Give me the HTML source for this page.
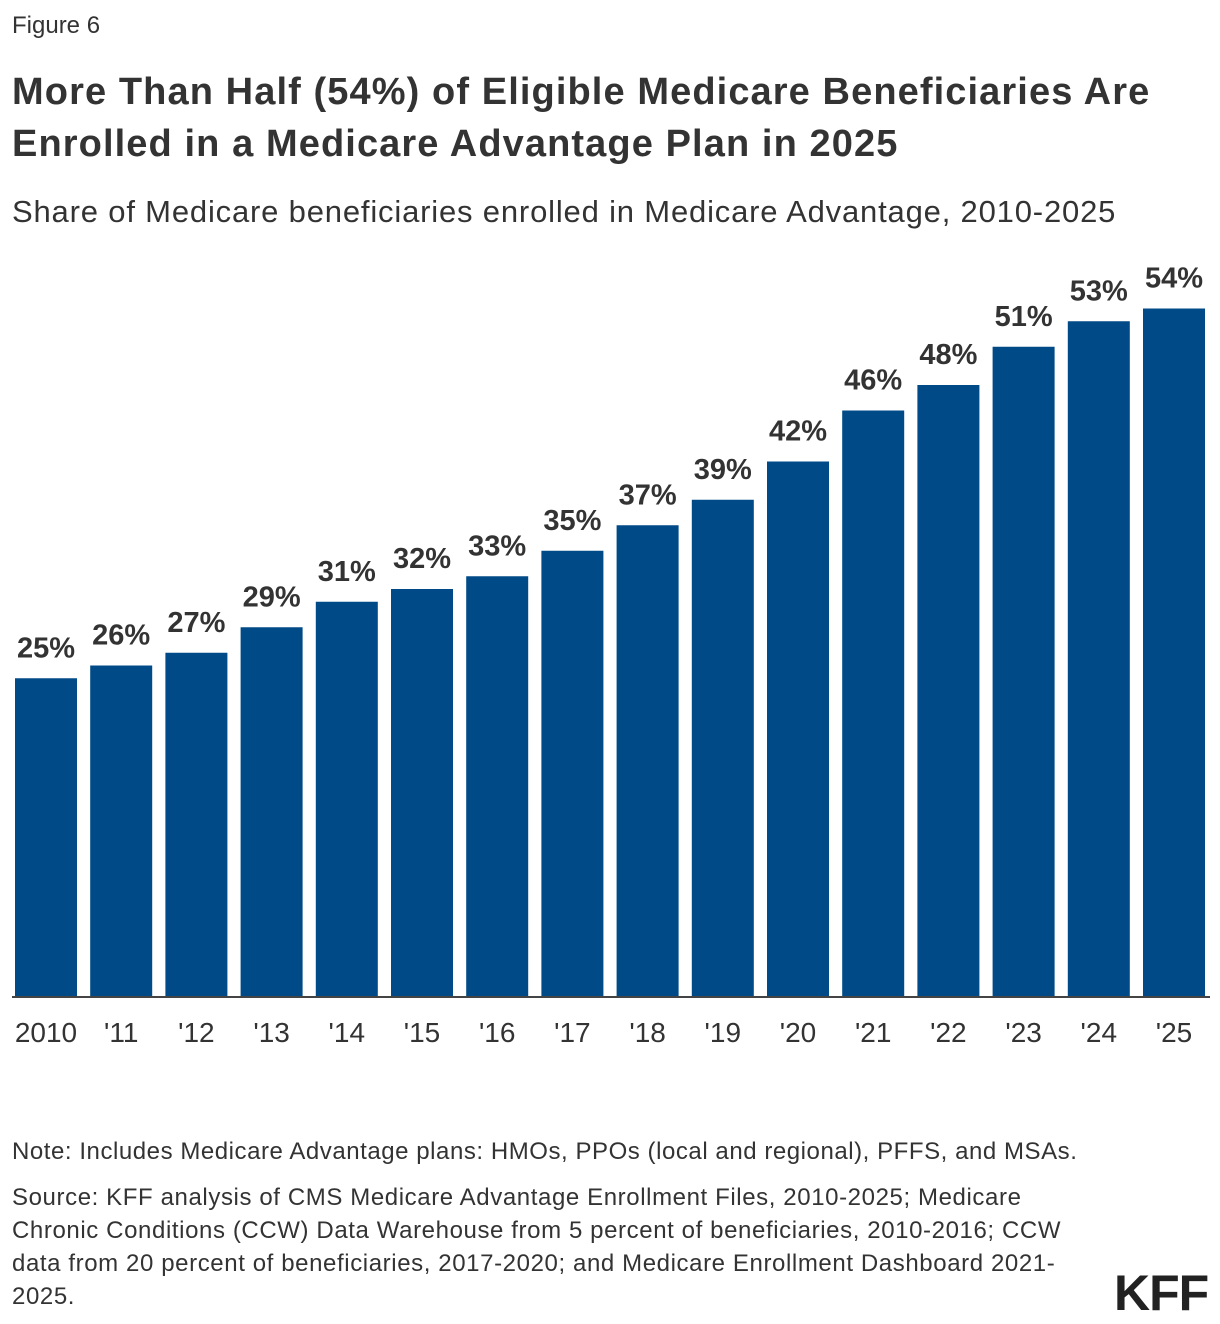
<!DOCTYPE html>
<html><head><meta charset="utf-8"><style>
body{margin:0;width:1220px;height:1324px;background:#fff;font-family:"Liberation Sans",sans-serif;color:#222;position:relative;overflow:hidden}
.t{position:absolute;left:12px;white-space:nowrap}
</style></head><body>
<div class="t" style="top:12px;font-size:24px;color:#333">Figure 6</div>
<div class="t" style="top:66px;font-size:38px;font-weight:bold;line-height:52px;color:#333;letter-spacing:1.1px">More Than Half (54%) of Eligible Medicare Beneficiaries Are<br>Enrolled in a Medicare Advantage Plan in 2025</div>
<div class="t" style="top:194px;font-size:31px;color:#333;letter-spacing:0.82px">Share of Medicare beneficiaries enrolled in Medicare Advantage, 2010-2025</div>
<svg id="chart" style="position:absolute;left:0;top:0" width="1220" height="1324"></svg>
<div class="t" style="top:1138px;font-size:24px;color:#333;letter-spacing:0.55px">Note: Includes Medicare Advantage plans: HMOs, PPOs (local and regional), PFFS, and MSAs.</div>
<div class="t" style="top:1181px;font-size:24px;line-height:33px;color:#333;letter-spacing:0.6px">Source: KFF analysis of CMS Medicare Advantage Enrollment Files, 2010-2025; Medicare<br>Chronic Conditions (CCW) Data Warehouse from 5 percent of beneficiaries, 2010-2016; CCW<br>data from 20 percent of beneficiaries, 2017-2020; and Medicare Enrollment Dashboard 2021-<br>2025.</div>
<div style="position:absolute;left:1114px;top:1264px;font-size:50px;font-weight:bold;color:#222;letter-spacing:-1px">KFF</div>
<script>
const categories=["2010","'11","'12","'13","'14","'15","'16","'17","'18","'19","'20","'21","'22","'23","'24","'25"];
const values=[25,26,27,29,31,32,33,35,37,39,42,46,48,51,53,54];
const labels=["25%","26%","27%","29%","31%","32%","33%","35%","37%","39%","42%","46%","48%","51%","53%","54%"];
const svg=document.getElementById('chart');
const NS='http://www.w3.org/2000/svg';
const base=997,scale=12.75,x0=15,step=75.2,bw=62;
function x(i){return x0+i*step;}
function y(v){return base-v*scale;}
values.forEach((v,i)=>{
 const r=document.createElementNS(NS,'rect');
 r.setAttribute('x',x(i));r.setAttribute('y',y(v));r.setAttribute('width',bw);r.setAttribute('height',base-y(v));r.setAttribute('fill','#004a87');
 
 
 svg.appendChild(r);
 const t=document.createElementNS(NS,'text');
 t.setAttribute('x',x(i)+bw/2);t.setAttribute('y',y(v)-21);t.setAttribute('text-anchor','middle');
 t.setAttribute('font-size','29');t.setAttribute('font-weight','bold');t.setAttribute('fill','#333');t.setAttribute('font-family','Liberation Sans, sans-serif');
 t.textContent=labels[i];
 
 
 svg.appendChild(t);
 const c=document.createElementNS(NS,'text');
 c.setAttribute('x',x(i)+bw/2);c.setAttribute('y',1042);c.setAttribute('text-anchor','middle');
 c.setAttribute('font-size','28');c.setAttribute('fill','#333');c.setAttribute('font-family','Liberation Sans, sans-serif');
 c.textContent=categories[i];
 
 
 svg.appendChild(c);
});
const l=document.createElementNS(NS,'line');
l.setAttribute('x1',12);l.setAttribute('x2',1210);l.setAttribute('y1',base);l.setAttribute('y2',base);l.setAttribute('stroke','#444');l.setAttribute('stroke-width','2');


svg.appendChild(l);
</script>
</body></html>
